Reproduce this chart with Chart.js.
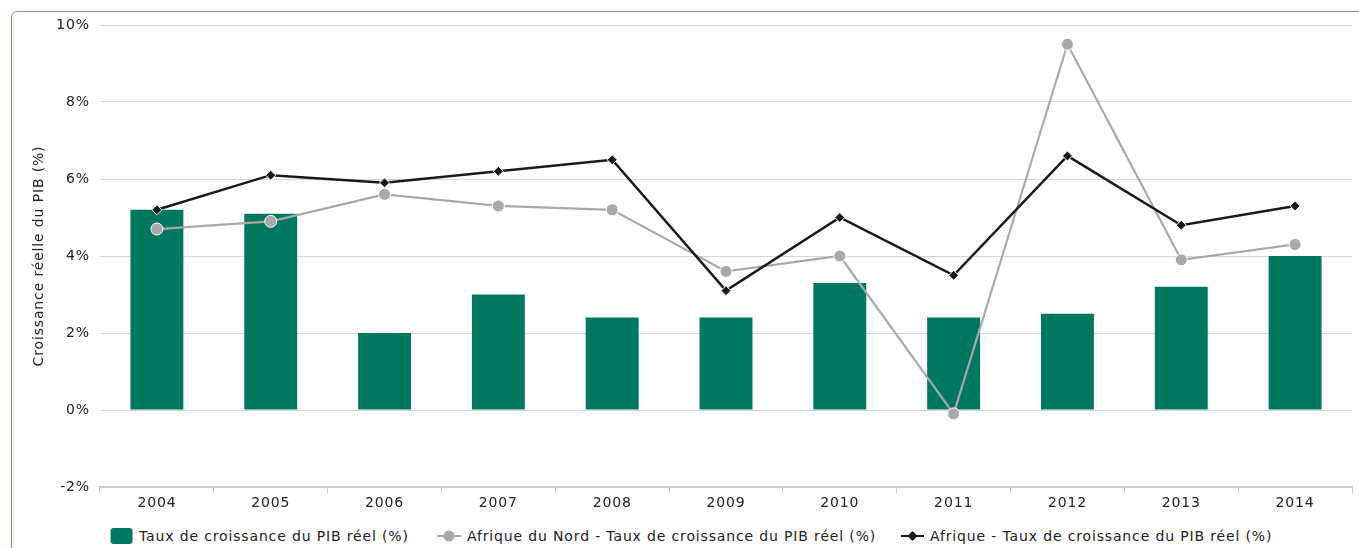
<!DOCTYPE html>
<html>
<head>
<meta charset="utf-8">
<script src="https://cdn.jsdelivr.net/npm/chart.js@4.4.1/dist/chart.umd.min.js"></script>
<style>
  body { margin: 0; background: #fff; font-family: "DejaVu Sans", sans-serif; overflow: hidden; }
  .frame { position: absolute; left: 11px; top: 11px; width: 1400px; height: 600px;
           border: 1px solid #7396cc; border-radius: 6px; }
  .wrap { position: absolute; left: 0; top: 0; width: 1359px; height: 510px; }
  .legend { position: absolute; top: 527px; left: 0; font-size: 14px; color: #222; letter-spacing: 0.85px; }
  .legend span.item { position: absolute; white-space: nowrap; display: flex; align-items: center; }
  .legend svg { margin-right: 6px; }
</style>
</head>
<body>
<div class="frame"></div>
<div class="wrap"><canvas id="chart"></canvas></div>
<div class="legend" id="legend"></div>
<script>
const years = ['2004','2005','2006','2007','2008','2009','2010','2011','2012','2013','2014'];
const pib_pays = [5.2, 5.1, 2.0, 3.0, 2.4, 2.4, 3.3, 2.4, 2.5, 3.2, 4.0];
const pib_nord = [4.7, 4.9, 5.6, 5.3, 5.2, 3.6, 4.0, -0.1, 9.5, 3.9, 4.3];
const pib_afrique = [5.2, 6.1, 5.9, 6.2, 6.5, 3.1, 5.0, 3.5, 6.6, 4.8, 5.3];
const y_ticks = [-2, 0, 2, 4, 6, 8, 10];

const green = '#00775f';
const gray = '#a9a9ab';
const black = '#1a1a1a';

const labels_legend = [
    'Taux de croissance du PIB réel (%)',
    'Afrique du Nord - Taux de croissance du PIB réel (%)',
    'Afrique - Taux de croissance du PIB réel (%)'
];

Chart.defaults.font.family = '"DejaVu Sans", sans-serif';
Chart.defaults.font.size = 14;
Chart.defaults.color = '#222';

// espacement des lettres comme dans l'original
const spacing = {
    id: 'spacing',
    beforeDraw(chart) { chart.ctx.letterSpacing = '0.85px'; }
};

const data = {
    labels: years,
    datasets: [
        {
            type: 'line',
            label: labels_legend[2],
            data: pib_afrique,
            borderColor: black,
            backgroundColor: black,
            borderWidth: 2.5,
            pointStyle: 'rectRot',
            pointRadius: 5,
            pointBorderColor: '#fff',
            pointBorderWidth: 1,
            order: 1
        },
        {
            type: 'line',
            label: labels_legend[1],
            data: pib_nord,
            borderColor: gray,
            backgroundColor: gray,
            borderWidth: 2.2,
            pointStyle: 'circle',
            pointRadius: 6,
            pointBorderColor: '#fff',
            pointBorderWidth: 1,
            order: 2
        },
        {
            type: 'bar',
            label: labels_legend[0],
            data: pib_pays,
            backgroundColor: green,
            barPercentage: 0.465,
            categoryPercentage: 1,
            order: 3
        }
    ]
};

const config = {
    type: 'bar',
    data: data,
    plugins: [spacing],
    options: {
        responsive: true,
        maintainAspectRatio: false,
        animation: false,
        layout: { padding: { left: 22, top: 25, right: 2, bottom: 0 } },
        plugins: { legend: { display: false }, tooltip: { enabled: false } },
        scales: {
            x: {
                grid: { offset: true, drawOnChartArea: false, drawTicks: true, tickLength: 6, color: '#cccccc' },
                border: { color: '#cccccc', width: 2 },
                ticks: { padding: 2, color: '#222' },
                afterFit: (scale) => { scale.height = 23; }
            },
            y: {
                min: -2,
                max: 10,
                afterBuildTicks: (scale) => { scale.ticks = y_ticks.map(v => ({ value: v })); },
                grid: { drawTicks: false, color: '#d6d6d6' },
                border: { display: false },
                ticks: { padding: 10, color: '#222', callback: (v) => v + '%' },
                title: { display: true, text: 'Croissance réelle du PIB (%)', color: '#222', padding: { top: 9, bottom: 0 } },
                afterFit: (scale) => { scale.width = 78; }
            }
        }
    }
};

const chart = new Chart(document.getElementById('chart'), config);

// legende en HTML
const legend = document.getElementById('legend');
const items = [
    { x: 110, svg: `<svg width="23" height="18"><rect x="0.5" y="1" width="22" height="16" rx="3" fill="${green}"/></svg>`, text: labels_legend[0] },
    { x: 437, svg: `<svg width="24" height="18"><line x1="0" y1="9" x2="24" y2="9" stroke="${gray}" stroke-width="2"/><circle cx="12" cy="9" r="5.5" fill="${gray}"/></svg>`, text: labels_legend[1] },
    { x: 901, svg: `<svg width="23" height="18"><line x1="0" y1="9" x2="23" y2="9" stroke="${black}" stroke-width="2"/><polygon points="11.5,4 16.5,9 11.5,14 6.5,9" fill="${black}"/></svg>`, text: labels_legend[2] }
];
items.forEach(it => {
    const s = document.createElement('span');
    s.className = 'item';
    s.style.left = it.x + 'px';
    s.innerHTML = it.svg + '<span>' + it.text + '</span>';
    legend.appendChild(s);
});
</script>
</body>
</html>
